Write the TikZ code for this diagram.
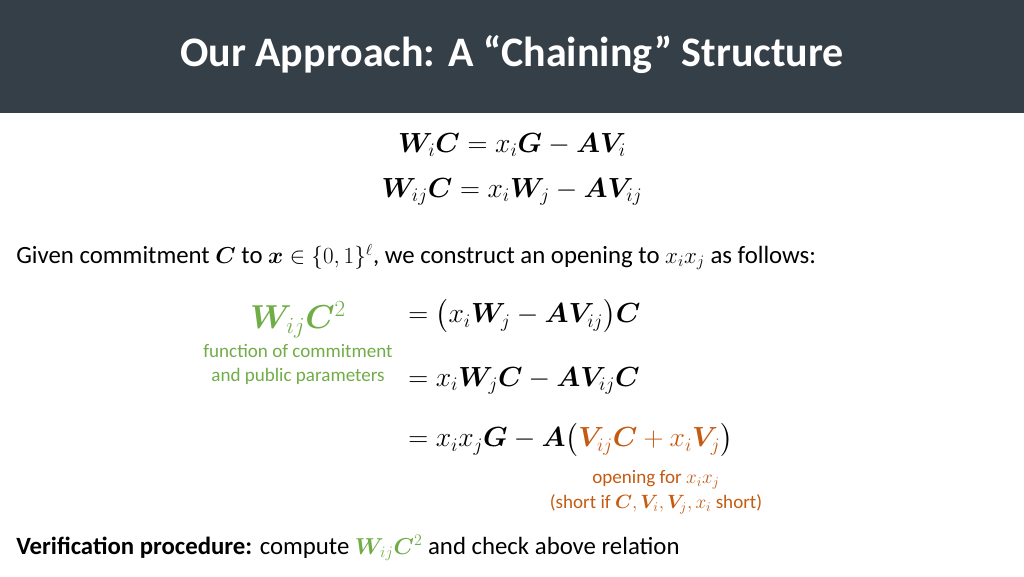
\documentclass[tikz,border=0pt]{standalone}
\usepackage{amsmath,bm}
\usepackage{fontspec}
\setmainfont{Carlito}
\usetikzlibrary{positioning}
\definecolor{headbg}{RGB}{53,63,71}
\definecolor{grn}{RGB}{112,173,71}
\definecolor{orn}{RGB}{197,90,17}
\tikzset{x=0.75pt, y=-0.75pt,
  title/.style={text=white, font=\fontsize{31.5}{36}\selectfont\bfseries},
  body/.style={font=\fontsize{18.6}{22}\selectfont, inner sep=0pt},
  eqn/.style={font=\fontsize{20.5}{25}\selectfont, inner sep=0pt},
  note/.style={font=\fontsize{14.3}{17}\selectfont, inner sep=0pt, align=center}}
\begin{document}
\begin{tikzpicture}
  \useasboundingbox (0,0) rectangle (1024,576);
  \fill[headbg] (0,0) rectangle (1024,113);
  \node[title] (ttl) at (512,55) {Our Approach: A “Chaining” Structure};
  % key relations
  \node[eqn] (r1) at (512,145) {$\bm{W}_i\bm{C} = x_i\bm{G} - \bm{A}\bm{V}_i$};
  \node[eqn] (r2) at (512,192) {$\bm{W}_{ij}\bm{C} = x_i\bm{W}_j - \bm{A}\bm{V}_{ij}$};
  \node[body, anchor=west] (given) at (16,257) {Given commitment $\bm{C}$ to $\bm{x}\in\{0,1\}^\ell$, we construct an opening to $x_ix_j$ as follows:};
  % derivation
  \node[eqn, text=grn, font=\fontsize{24}{28}\selectfont] (lhs) at (298,320) {$\bm{W}_{ij}\bm{C}^2$};
  \node[note, text=grn] (fn) at (298,364) {function of commitment\\[1pt]and public parameters};
  \node[eqn, anchor=west] (e1) at (408,316) {$=\bigl(x_i\bm{W}_j - \bm{A}\bm{V}_{ij}\bigr)\bm{C}$};
  \node[eqn, anchor=west] (e2) at (408,381) {$= x_i\bm{W}_j\bm{C} - \bm{A}\bm{V}_{ij}\bm{C}$};
  \node[eqn, anchor=west] (e3) at (408,440) {$= x_ix_j\bm{G} - \bm{A}\bigl({\color{orn}\bm{V}_{ij}\bm{C} + x_i\bm{V}_j}\bigr)$};
  \node[note, text=orn] (open) at (656,492) {opening for $x_ix_j$\\[2pt](short if $\bm{C},\bm{V}_i,\bm{V}_j,x_i$ short)};
  % verification
  \node[body, anchor=west] (verif) at (16,548) {\textbf{Verification procedure:} compute {\color{grn}$\bm{W}_{ij}\bm{C}^2$} and check above relation};
\end{tikzpicture}
\end{document}
